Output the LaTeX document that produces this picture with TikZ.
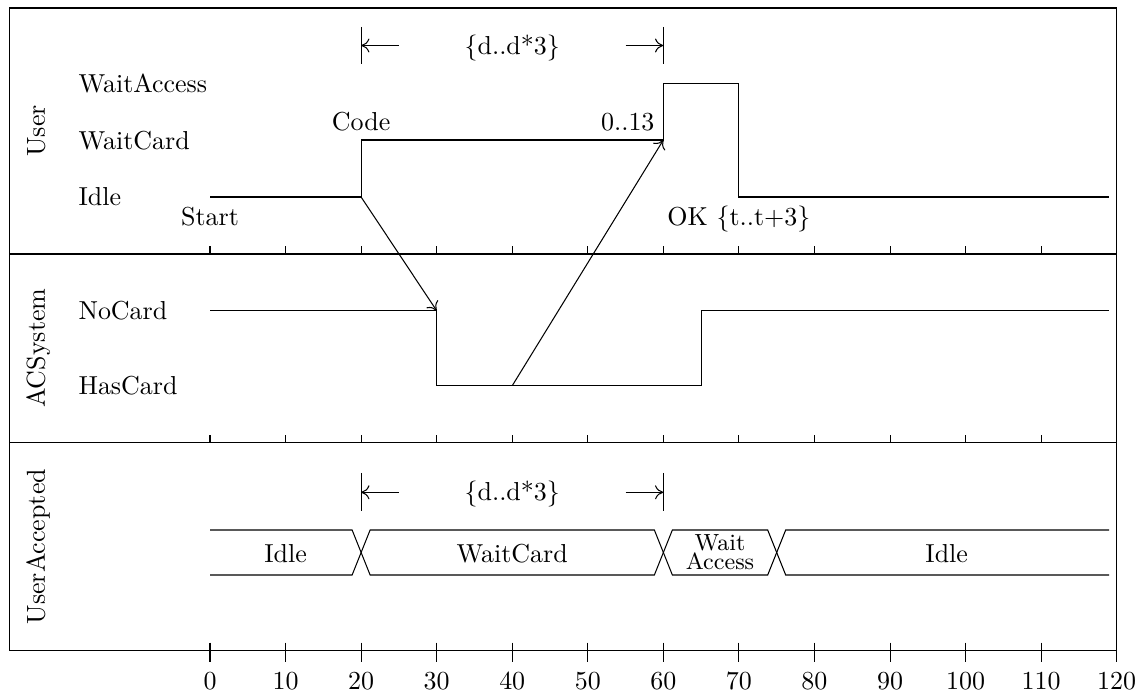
\documentclass[tikz,border=0pt]{standalone}
\usetikzlibrary{calc,arrows.meta}
\begin{document}
\begin{tikzpicture}[x=0.385pt,y=-0.385pt,
  declare function={tx(\t)=210+7.556*\t;},
  >={To[length=3.2pt,width=5.4pt]},
  frm/.style={line width=0.45pt},
  sig/.style={line width=0.4pt},
  ticktk/.style={line width=0.4pt},
  lane/.style={rotate=90,anchor=base,inner sep=0pt},
  state/.style={anchor=base west,inner sep=0pt}]
\useasboundingbox (0,0) rectangle (1146,695);
% frame and lanes
\draw[frm] (9.5,8) rectangle (1116.7,650.7);
\draw[frm] (9.5,254) -- (1116.7,254);
\draw[frm] (9.5,442.7) -- (1116.7,442.7);
\foreach \t in {0,10,...,110}{
  \draw[ticktk] ({tx(\t)},254) -- ++(0,-8);
  \draw[ticktk] ({tx(\t)},442.7) -- ++(0,-8);
}
\foreach \t in {0,10,...,120}{
  \draw[ticktk] ({tx(\t)},642.7) -- ({tx(\t)},661.7);
  \node[anchor=base,inner sep=0pt] (num\t) at ({tx(\t)},689.3) {\t};
}
% lane labels
\node[lane] (lUser) at (45,131) {User};
\node[lane] (lACS) at (45,348.3) {ACSystem};
\node[lane] (lUA) at (45,546.7) {UserAccepted};
% state labels
\node[state] (sWA) at (78,92.3) {WaitAccess};
\node[state] (sWC) at (78,149.3) {WaitCard};
\node[state] (sI) at (78,205.5) {Idle};
\node[state] (sNC) at (78,320) {NoCard};
\node[state] (sHC) at (78,395) {HasCard};
% coordinates
\coordinate (U0) at ({tx(0)},197);
\coordinate (U20) at ({tx(20)},197);
\coordinate (U20c) at ({tx(20)},140);
\coordinate (U60c) at ({tx(60)},140);
\coordinate (U60a) at ({tx(60)},83.3);
\coordinate (U70a) at ({tx(70)},83.3);
\coordinate (U70) at ({tx(70)},197);
\coordinate (Uend) at ({tx(119)},197);
\coordinate (A0) at ({tx(0)},310.7);
\coordinate (A30) at ({tx(30)},310.7);
\coordinate (A30h) at ({tx(30)},385.7);
\coordinate (A40h) at ({tx(40)},385.7);
\coordinate (A65h) at ({tx(65)},385.7);
\coordinate (A65) at ({tx(65)},310.7);
\coordinate (Aend) at ({tx(119)},310.7);
% signals
\draw[sig] (U0) -- (U20) -- (U20c) -- (U60c) -- (U60a) -- (U70a) -- (U70) -- (Uend);
\draw[sig] (A0) -- (A30) -- (A30h) -- (A65h) -- (A65) -- (Aend);
\draw[sig,->] (U20) -- (A30);
\draw[sig,->] (A40h) -- (U60c);
% signal labels
\node[anchor=base,inner sep=0pt] (lStart) at ({tx(0)},225.5) {Start};
\node[anchor=base,inner sep=0pt] (lCode) at ({tx(20)},130.7) {Code};
\node[anchor=base east,inner sep=0pt] (l013) at (655,130.7) {0..13};
\node[anchor=base,inner sep=0pt] (lOK) at ({tx(70)},226) {OK \{t..t+3\}};
% top duration
\draw[sig] ({tx(20)},27) -- ({tx(20)},64);
\draw[sig] ({tx(60)},27) -- ({tx(60)},64);
\coordinate (d1a) at ({tx(20)},45.5);
\coordinate (d1b) at ({tx(25)},45.5);
\coordinate (d1c) at ({tx(55)},45.5);
\coordinate (d1d) at ({tx(60)},45.5);
\draw[sig,<-] (d1a) -- (d1b);
\draw[sig,->] (d1c) -- (d1d);
\node[anchor=base,inner sep=0pt] (dur1) at ({tx(40)},55) {\{d..d*3\}};
% bottom duration
\draw[sig] ({tx(20)},473) -- ({tx(20)},510.7);
\draw[sig] ({tx(60)},473) -- ({tx(60)},510.7);
\coordinate (d2a) at ({tx(20)},492.3);
\coordinate (d2b) at ({tx(25)},492.3);
\coordinate (d2c) at ({tx(55)},492.3);
\coordinate (d2d) at ({tx(60)},492.3);
\draw[sig,<-] (d2a) -- (d2b);
\draw[sig,->] (d2c) -- (d2d);
\node[anchor=base,inner sep=0pt] (dur2) at ({tx(40)},500.5) {\{d..d*3\}};
% bus
\def\h{9}
\draw[sig] ({tx(0)},530) -- ({tx(20)-\h},530) -- ({tx(20)+\h},575) -- ({tx(60)-\h},575) -- ({tx(60)+\h},530) -- ({tx(75)-\h},530) -- ({tx(75)+\h},575) -- ({tx(119)},575);
\draw[sig] ({tx(0)},575) -- ({tx(20)-\h},575) -- ({tx(20)+\h},530) -- ({tx(60)-\h},530) -- ({tx(60)+\h},575) -- ({tx(75)-\h},575) -- ({tx(75)+\h},530) -- ({tx(119)},530);
\node[anchor=base,inner sep=0pt] (bI1) at ({tx(10)},562.5) {Idle};
\node[anchor=base,inner sep=0pt] (bWC) at ({tx(40)},562.5) {WaitCard};
\node[anchor=base,inner sep=0pt,font=\small,align=center] (bWA) at ({tx(67.5)},569.3) {Wait\\[-3.9pt]Access};
\node[anchor=base,inner sep=0pt] (bI2) at ({tx(97.5)},562.5) {Idle};
\end{tikzpicture}
\end{document}
